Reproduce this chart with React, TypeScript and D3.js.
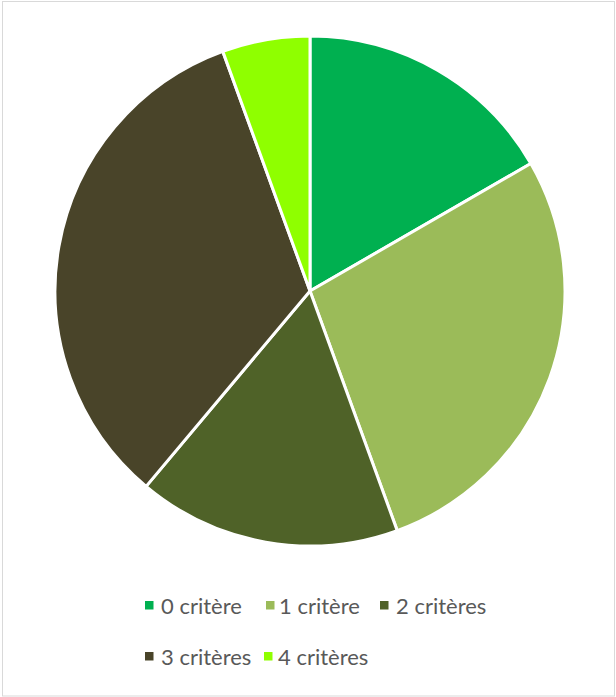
import React from "react";
import * as d3 from "d3";

const categories = ["0 critère", "1 critère", "2 critères", "3 critères", "4 critères"];
const values = [3, 5, 3, 6, 1];
const colors = ["#00B050", "#9BBB59", "#4F6228", "#494429", "#8FFF00"];

const W = 616, H = 697;
const cx = 310, cy = 291, r = 255;

export default function App() {
  const pie = d3.pie<number>().sort(null).value((d) => d);
  const arcs = pie(values);
  const arc = d3.arc<d3.PieArcDatum<number>>().innerRadius(0).outerRadius(r);
  const rows = [
    [{ i: 0, sx: 145, tx: 161 }, { i: 1, sx: 266, tx: 279 }, { i: 2, sx: 380, tx: 396 }],
    [{ i: 3, sx: 145, tx: 161 }, { i: 4, sx: 264, tx: 278 }],
  ];
  const rowY = [614, 665];
  return (
    <svg width={W} height={H} style={{ position: "absolute", left: 0, top: 0 }}>
      <rect x={0} y={0} width={W} height={H} fill="#fff" />
      <rect x={2.5} y={1.5} width={W - 4} height={H - 2.5} fill="none" stroke="#d9d9d9" strokeWidth={1} />
      <g transform={`translate(${cx},${cy})`}>
        {arcs.map((a, i) => (
          <path key={i} d={arc(a) || ""} fill={colors[i]} stroke="#fff" strokeWidth={3} strokeLinejoin="round" />
        ))}
      </g>
      {rows.map((row, ri) =>
        row.map((e) => (
          <g key={e.i}>
            <rect x={e.sx} y={rowY[ri] - 13} width={8.5} height={8.5} fill={colors[e.i]} />
            <text x={e.tx} y={rowY[ri]} fontFamily="Lato, sans-serif" fontSize={22} fill="#595959">
              {categories[e.i]}
            </text>
          </g>
        ))
      )}
    </svg>
  );
}
